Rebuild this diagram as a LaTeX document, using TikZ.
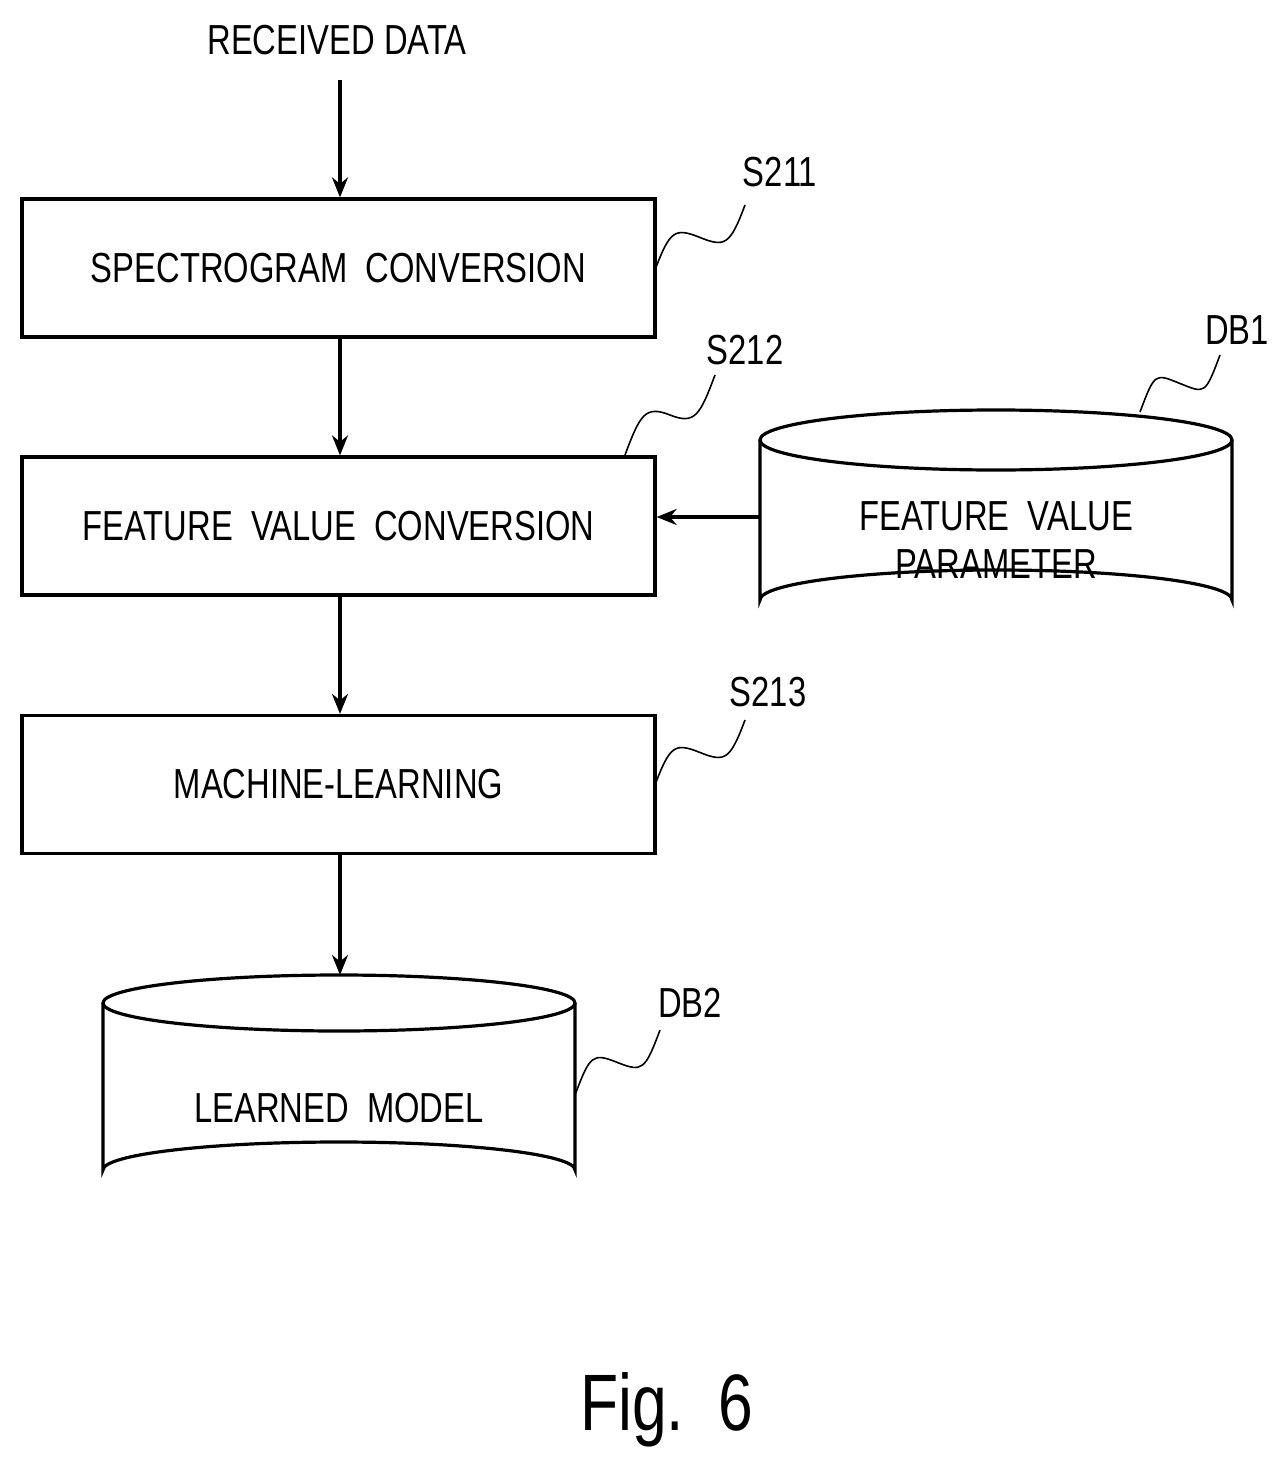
\documentclass[tikz,border=0pt]{standalone}
\usetikzlibrary{arrows.meta,calc}
\usepackage{fontspec}
\setmainfont{Liberation Sans}[FakeStretch=0.78]
\begin{document}
\begin{tikzpicture}[x=0.5pt,y=-0.5pt,line width=1.6pt,
  box/.style={draw,minimum width=316.5pt,minimum height=69pt,inner sep=0pt,font=\fontsize{21}{24}\selectfont},
  lbl/.style={font=\fontsize{21}{24}\selectfont},
  arr/.style={-{Stealth[length=10pt,width=8pt]}},
  sq/.style={line width=0.8pt}]
\useasboundingbox (0,0) rectangle (1286,1466);
\node[lbl] (rd) at (337,40) {RECEIVED DATA};
\node[box] (b1) at (338.5,268) {SPECTROGRAM\ \ CONVERSION};
\node[box] (b2) at (338.5,526) {FEATURE\ \ VALUE\ \ CONVERSION};
\node[box] (b3) at (338.5,784.5) {MACHINE-LEARNING};
% cylinders
\draw (996,440) ellipse (236 and 30);
\draw (760,440) -- (760,600) arc[start angle=180,end angle=360,x radius=236,y radius=30] -- (1232,440);
\node[lbl,align=center] (db1) at (996,540) {FEATURE\ \ VALUE\\PARAMETER};
\coordinate (db1l) at (760,517);
\draw (339,1003) ellipse (236 and 28);
\draw (103,1003) -- (103,1170) arc[start angle=180,end angle=360,x radius=236,y radius=28] -- (575,1003);
\node[lbl] (db2) at (339,1108) {LEARNED\ \ MODEL};
\coordinate (db2t) at (340,975);
\coordinate (rdb) at (340,80);
% arrows
\draw[arr] (rdb) -- (b1.north -| rdb);
\draw[arr] (b1.south -| rdb) -- (b2.north -| rdb);
\draw[arr] (b2.south -| rdb) -- (b3.north -| rdb);
\draw[arr] (b3.south -| rdb) -- (db2t);
\draw[arr] (db1l) -- (b2.east |- db1l);
% labels
\node[lbl] (s211) at (780,172) {S211};
\node[lbl] (s212) at (745,350) {S212};
\node[lbl] (s213) at (768,692) {S213};
\node[lbl] (ldb1) at (1237,330) {DB1};
\node[lbl] (ldb2) at (690,1003) {DB2};
\node[font=\fontsize{40}{46}\selectfont] (fig) at (667,1410) {Fig.\ \ 6};
% squiggles
\foreach \ax/\ay/\bx/\by in {655/270/745/205,625/455/715/375,655/785/745/720,1140/412/1220/355,575/1095/660/1030}{
  \draw[sq] (\ax,\ay) .. controls +(15,-40) and +(-25,-10) .. ({(\ax+\bx)/2},{(\ay+\by)/2}) .. controls +(25,10) and +(-15,40) .. (\bx,\by);
}
\end{tikzpicture}
\end{document}
